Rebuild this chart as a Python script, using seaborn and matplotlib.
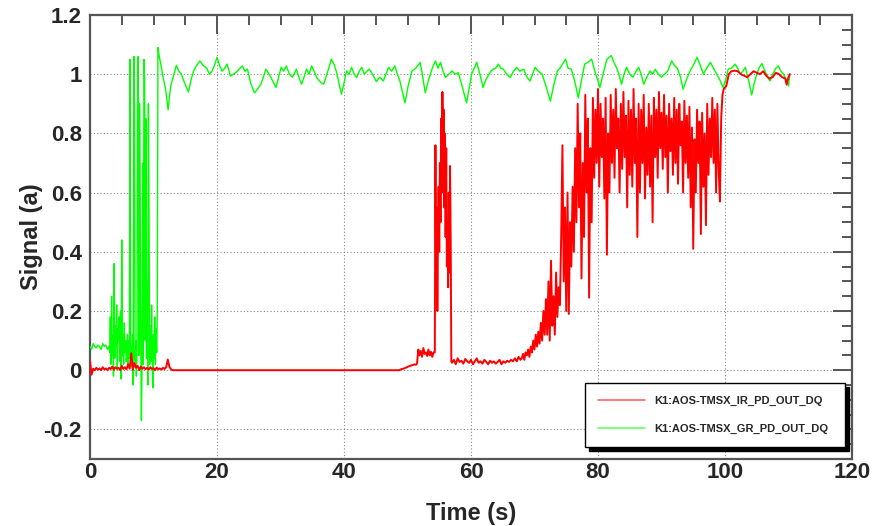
import numpy as np
import pandas as pd
import matplotlib
matplotlib.use("Agg")
import matplotlib.pyplot as plt
import seaborn as sns
from matplotlib.ticker import MultipleLocator

# ---------------- data ----------------
# green channel: segments given as (start time, step) + values
green_seg1_vals = [0.08, 0.07, 0.09, 0.08, 0.075, 0.085, 0.08, 0.07, 0.09, 0.08, 0.085, 0.07, 0.08]  # 0-3 s, step 0.25
green_seg2_vals = [0.06, 0.18, 0.02, 0.25, 0.05, 0.12, -0.02, 0.36, 0.04, 0.15, 0.08, 0.22, 0.0, 0.14,
                   0.1, 0.18, 0.03, 0.2, -0.03, 0.44, 0.05, 0.12, 0.02, 0.16, 0.06, 0.1, 0.03]  # 3.1-5.7, step 0.1
green_seg3_vals = [0.05, 0.12, 0.02, 0.1, 0.04, 1.05, 0.02, 0.08, 0.01, 0.12, -0.05, 1.06, 0.9, 0.03,
                   0.1, -0.02, 0.06, 1.04, 1.06, 0.05, 0.9, 0.6, 0.08, -0.17, 0.04, 0.7, 0.02, 1.05,
                   0.98, 0.1, 0.85, 0.04, 0.3, -0.05, 0.9, 0.5, 0.02, 0.15, 0.03, 0.22, 0.05, -0.06,
                   0.12, 0.04, 0.18, 0.02, 0.14, 0.06, 0.2]  # 5.8-10.6, step 0.1
green_main_t = [10.7, 10.9, 11.1, 11.5, 11.9, 12.3, 12.7, 13.1, 13.6, 14.0, 14.4, 14.9, 15.5, 15.9, 16.3,
                16.8, 17.3, 17.8, 18.4, 18.8, 19.2, 19.6, 20.0, 20.4, 20.8, 21.2, 21.6, 22.1, 22.6, 23.2,
                23.6, 24.0, 24.4, 24.8, 25.3, 25.9, 26.4, 26.9, 27.3, 27.7, 28.2, 28.7, 29.3, 29.7, 30.1,
                30.5, 30.9, 31.4, 31.9, 32.5, 32.9, 33.3, 33.7, 34.1, 34.5, 34.9, 35.3, 35.7, 36.2, 36.8,
                37.3, 37.6, 38.0, 38.5, 38.9, 39.3, 39.6, 40.0, 40.4, 40.8, 41.2, 41.6, 42.0, 42.4, 42.8,
                43.2, 43.6, 44.0, 44.5, 45.1, 45.6, 46.2, 46.6, 47.0, 47.5, 48.0, 48.4, 48.8, 49.2, 49.6,
                50.1, 50.7, 51.3, 52.0, 52.4, 52.8, 53.3, 53.9, 54.4, 54.8, 55.2, 55.6, 56.0, 56.5, 57.0,
                57.5, 58.0, 58.6, 59.3, 59.7, 60.1, 60.5, 60.9, 61.4, 61.9, 62.3, 62.7, 63.1, 63.5, 63.9,
                64.3, 64.7, 65.1, 65.6, 66.2, 66.7, 67.2, 67.7, 68.3, 68.8, 69.3, 69.7, 70.1, 70.6, 71.2,
                71.8, 72.5, 73.0, 73.6, 74.0, 74.4, 74.9, 75.3, 75.8, 76.3, 76.9, 77.4, 77.9, 78.4, 79.0,
                79.5, 80.0, 80.3, 80.8, 81.4, 82.1, 82.5, 82.9, 83.3, 83.7, 84.1, 84.5, 85.0, 85.5, 86.0,
                86.4, 86.8, 87.2, 87.7, 88.2, 88.6, 89.0, 89.5, 90.0, 90.5, 91.0, 91.6, 92.0, 92.5, 93.0,
                93.4, 93.9, 94.5, 95.0, 95.6, 96.1, 96.6, 97.1, 97.7, 98.2, 98.7, 99.2, 99.7, 100.1, 100.5,
                101.0, 101.6, 102.0, 102.4, 102.8, 103.2, 103.7, 104.2, 104.6, 105.0, 105.4, 105.8, 106.3,
                106.7, 107.1, 107.5, 108.0, 108.4, 108.8, 109.2, 109.7, 110.0, 110.2]
green_main_v = [1.09, 1.06, 1.04, 0.99, 0.95, 0.88, 0.96, 0.99, 1.03, 1.01, 1.0, 0.97, 0.94, 0.98, 1.01,
                1.03, 1.045, 1.03, 1.02, 1.0, 1.01, 1.03, 1.057, 1.03, 1.01, 1.02, 1.034, 0.994, 1.0, 1.01,
                1.02, 1.028, 1.01, 1.017, 0.97, 0.937, 0.95, 0.966, 0.99, 1.017, 1.0, 0.98, 0.955, 0.99, 1.023,
                1.01, 1.028, 1.0, 0.99, 1.017, 0.99, 0.966, 0.99, 1.017, 1.0, 1.028, 1.01, 0.989, 0.975, 0.966,
                1.0, 1.02, 1.051, 1.03, 1.0, 0.96, 0.932, 0.97, 1.011, 1.0, 1.023, 1.0, 0.989, 1.01, 1.023,
                1.0, 1.01, 1.017, 1.0, 0.975, 0.99, 0.977, 1.0, 1.023, 1.01, 1.028, 1.0, 0.977, 0.94, 0.903,
                0.96, 1.011, 1.02, 1.04, 0.99, 0.937, 0.98, 1.02, 1.045, 1.02, 1.04, 1.01, 0.989, 1.0, 1.011,
                1.0, 1.005, 0.96, 0.903, 0.95, 1.0, 1.02, 1.04, 1.0, 0.955, 0.98, 0.995, 1.01, 1.017, 1.02,
                1.034, 1.02, 1.017, 1.0, 0.989, 1.01, 1.023, 1.01, 1.017, 0.99, 0.977, 1.0, 1.023, 1.01, 1.0,
                0.96, 0.909, 0.96, 1.011, 1.02, 1.034, 1.051, 1.02, 1.017, 0.98, 0.92, 0.98, 1.034, 1.04, 1.051,
                1.01, 0.977, 0.955, 1.0, 1.051, 1.063, 1.04, 1.023, 1.0, 0.966, 1.0, 1.023, 1.0, 0.99, 1.01,
                1.023, 1.0, 0.966, 0.99, 1.011, 1.0, 1.017, 1.0, 0.99, 1.0, 1.011, 1.045, 1.03, 1.02, 0.99,
                0.949, 0.98, 1.011, 1.03, 1.057, 1.03, 1.0, 1.02, 1.04, 1.02, 1.0, 0.98, 0.955, 0.98, 1.017,
                1.02, 1.034, 1.02, 1.0, 1.01, 1.023, 0.98, 0.93, 0.97, 1.0, 1.023, 1.036, 1.01,
                0.99, 0.977, 1.0, 1.02, 1.028, 1.01, 1.0, 0.98, 0.96, 1.0]

# red channel
red_seg1_vals = [0.03, -0.015, 0.005, 0.0, 0.008, 0.002, 0.006, 0.0, 0.01, 0.003, 0.006, 0.0, 0.008,
                 0.004, 0.012, 0.002, 0.01, 0.005, 0.008, 0.0, 0.015, 0.004, 0.01, 0.003, 0.02, 0.005,
                 0.057, 0.002, 0.025, 0.008, 0.015, 0.0, 0.012, 0.005, 0.01, 0.003, 0.008, 0.002, 0.01,
                 0.004, 0.007, 0.0, 0.009, 0.003, 0.006, 0.002, 0.008, 0.004, 0.01, 0.036, 0.012, 0.003,
                 0.0]  # 0-13 s, step 0.25
red_flat_t = [13.5, 48.5]
red_flat_v = [0.0, 0.0]
red_seg2_vals = [0.0, 0.002, 0.004, 0.005, 0.006, 0.008, 0.01, 0.012, 0.014, 0.015, 0.017, 0.018,
                 0.02, 0.018, 0.022, 0.07, 0.05, 0.065, 0.045, 0.075, 0.055, 0.06, 0.048, 0.07, 0.05,
                 0.062, 0.045, 0.06]  # 48.7-54.1, step 0.2
red_seg3_vals = [0.06, 0.76, 0.3, 0.55, 0.2, 0.45, 0.62, 0.4, 0.7, 0.5, 0.85, 0.6, 0.94, 0.7, 0.88,
                 0.55, 0.8, 0.45, 0.75, 0.35, 0.5, 0.28, 0.6, 0.33, 0.69, 0.45, 0.03]  # 54.3-56.9, step 0.1
red_seg4_vals = [0.025, 0.035, 0.02, 0.04, 0.028, 0.032, 0.022, 0.038, 0.03, 0.025, 0.035, 0.02, 0.03,
                 0.04, 0.025, 0.03, 0.022, 0.035, 0.028, 0.02, 0.032, 0.025, 0.03, 0.022, 0.028, 0.035,
                 0.02, 0.03, 0.025, 0.032, 0.028, 0.035, 0.03, 0.04, 0.03, 0.045, 0.035]  # 57.0-67.8, step 0.3
red_seg5_vals = [0.04, 0.055, 0.035, 0.06, 0.05, 0.07, 0.045, 0.08, 0.06, 0.1, 0.07, 0.12, 0.08, 0.13,
                 0.09, 0.16, 0.1, 0.2, 0.12, 0.24]  # 68.0-71.8, step 0.2
red_seg6_vals = [0.12, 0.3, 0.1, 0.37, 0.15, 0.25, 0.12, 0.33, 0.18, 0.28,
                 0.22, 0.45, 0.76, 0.3, 0.55, 0.2, 0.6, 0.19, 0.5, 0.35,
                 0.62, 0.4, 0.75, 0.5, 0.9, 0.55, 0.8, 0.31, 0.7, 0.45,
                 0.93, 0.6, 0.85, 0.245, 0.75, 0.5, 0.92, 0.65, 0.88, 0.7,
                 0.95, 0.62, 0.9, 0.72, 0.85, 0.58, 0.92, 0.39, 0.8, 0.6,
                 0.93, 0.7, 0.88, 0.65, 0.95, 0.75, 0.85, 0.6, 0.9, 0.68,
                 0.94, 0.72, 0.86, 0.55, 0.91, 0.66, 0.88, 0.62, 0.95, 0.7,
                 0.85, 0.45, 0.9, 0.6, 0.88, 0.7, 0.93, 0.58, 0.82, 0.66,
                 0.9, 0.62, 0.86, 0.5, 0.92, 0.72, 0.88, 0.65, 0.94, 0.75,
                 0.87, 0.68, 0.93, 0.72, 0.86, 0.6, 0.9, 0.74, 0.85, 0.66,
                 0.92, 0.7, 0.88, 0.63, 0.9, 0.76, 0.84, 0.6, 0.91, 0.7,
                 0.86, 0.65, 0.89, 0.55, 0.82, 0.41, 0.78, 0.6, 0.88, 0.7,
                 0.84, 0.46, 0.87, 0.62, 0.8, 0.49, 0.9, 0.66, 0.85, 0.72,
                 0.92, 0.7, 0.88, 0.6, 0.9, 0.68, 0.57, 0.85, 0.93, 0.95]  # 72.0-99.8, step 0.2
red_tail_t = [100.2, 100.6, 101.0, 101.5, 102.0, 102.5, 103.0, 103.5, 104.0, 104.5, 105.0, 105.5,
              106.0, 106.5, 107.0, 107.5, 108.0, 108.5, 109.0, 109.5, 109.7, 110.0, 110.2]
red_tail_v = [0.96, 1.0, 1.01, 1.012, 1.01, 1.0, 0.995, 0.99, 1.0, 1.01, 1.005, 1.0,
              1.01, 0.995, 0.985, 0.99, 1.005, 1.0, 0.99, 0.985, 0.965, 0.99, 1.0]

labels = ["K1:AOS-TMSX_IR_PD_OUT_DQ", "K1:AOS-TMSX_GR_PD_OUT_DQ"]


def seg(start, step, vals):
    t = start + step * np.arange(len(vals))
    return list(t), list(vals)


def build(parts):
    tt, vv = [], []
    for t, v in parts:
        tt += list(t)
        vv += list(v)
    return pd.DataFrame({"t": tt, "v": vv})


green = build([seg(0.0, 0.25, green_seg1_vals), seg(3.1, 0.1, green_seg2_vals),
               seg(5.8, 0.1, green_seg3_vals), (green_main_t, green_main_v)])
red = build([seg(0.0, 0.25, red_seg1_vals), (red_flat_t, red_flat_v), seg(48.7, 0.2, red_seg2_vals),
             seg(54.3, 0.1, red_seg3_vals), seg(57.0, 0.3, red_seg4_vals), seg(68.0, 0.2, red_seg5_vals),
             seg(72.0, 0.2, red_seg6_vals), (red_tail_t, red_tail_v)])

# ---------------- plot ----------------
sns.set_theme(style="white")
fam = ["Liberation Sans", "DejaVu Sans"]
plt.rcParams["font.family"] = fam

fig = plt.figure(figsize=(8.75, 5.26), dpi=100)
ax = fig.add_axes([90 / 875, 1 - 459 / 526, 762 / 875, 444 / 526])

sns.lineplot(data=green, x="t", y="v", estimator=None, sort=False, color="#00ff00", lw=1.0, ax=ax,
             label=labels[1], zorder=3)
sns.lineplot(data=red, x="t", y="v", estimator=None, sort=False, color="#ff0000", lw=1.4, ax=ax,
             label=labels[0], zorder=4)

ax.set_xlim(0, 120)
ax.set_ylim(-0.3, 1.2)
ax.xaxis.set_major_locator(MultipleLocator(20))
ax.xaxis.set_minor_locator(MultipleLocator(5))
ax.yaxis.set_major_locator(MultipleLocator(0.2))
ax.yaxis.set_minor_locator(MultipleLocator(0.05))
ax.grid(True, which="major", color="#888888", linestyle=(0, (1, 2)), lw=0.8)

sc = "#555555"
for s in ax.spines.values():
    s.set_color(sc)
    s.set_linewidth(1.6)
ax.tick_params(which="both", direction="in", top=True, right=True, color=sc, width=1.4)
ax.tick_params(which="major", length=14)
ax.tick_params(which="minor", length=7)

def fmt(v):
    if abs(v) < 1e-9:
        return "0"
    s = f"{v:.1f}"
    return s[:-2] if s.endswith(".0") else s

xt = [0, 20, 40, 60, 80, 100, 120]
yt = [-0.2, 0, 0.2, 0.4, 0.6, 0.8, 1.0, 1.2]
ax.set_xticks(xt)
ax.set_xticklabels([str(x) for x in xt], fontsize=16, fontweight="bold", family=fam)
ax.set_yticks(yt)
ax.set_yticklabels([fmt(y) for y in yt], fontsize=16, fontweight="bold", family=fam)
ax.tick_params(axis="x", pad=2)
ax.tick_params(axis="y", pad=6)

ax.set_xlabel("Time (s)", fontsize=17, fontweight="bold", family=fam, labelpad=14)
ax.set_ylabel("Signal (a)", fontsize=17, fontweight="bold", family=fam, labelpad=0)

h, l = ax.get_legend_handles_labels()
order = [l.index(labels[0]), l.index(labels[1])]
leg = ax.legend([h[i] for i in order], [l[i] for i in order], loc="lower left",
                bbox_to_anchor=(0.65, 0.027, 0.341, 0.14), mode="expand", frameon=True,
                fancybox=False, shadow={"ox": 3, "oy": -3, "facecolor": "black", "edgecolor": "black", "alpha": 1},
                prop={"family": fam, "weight": "bold", "size": 8}, handlelength=4.2, borderpad=1.15,
                labelspacing=1.65, handletextpad=0.9, borderaxespad=0)
leg.get_frame().set_edgecolor("black")
leg.get_frame().set_linewidth(1.0)
leg.get_frame().set_facecolor("white")
for ln in leg.get_lines():
    ln.set_linewidth(1.2)
    ln.set_alpha(0.6)

fig.savefig("out.png", dpi=100)
